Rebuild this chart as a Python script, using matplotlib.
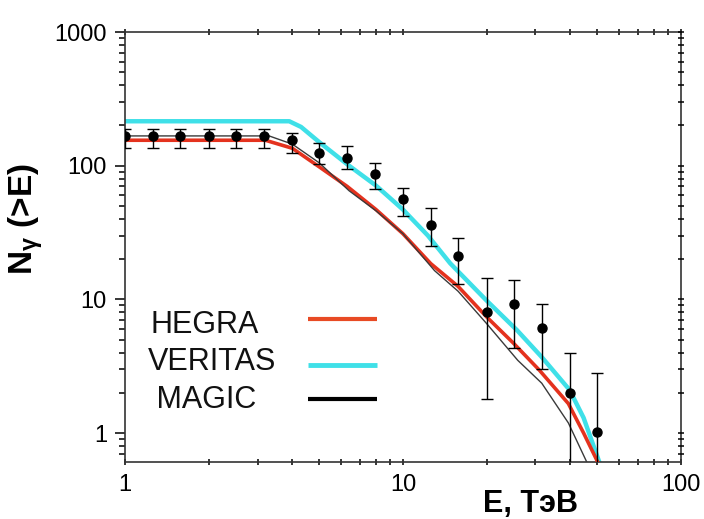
import matplotlib
matplotlib.use("Agg")
import matplotlib.pyplot as plt
from matplotlib.ticker import LogLocator, FixedLocator, FixedFormatter, NullFormatter
import numpy as np

plt.rcParams['font.family'] = ['Liberation Sans', 'DejaVu Sans']
plt.rcParams['mathtext.fontset'] = 'custom'
plt.rcParams['mathtext.rm'] = 'Liberation Sans:bold'
plt.rcParams['mathtext.it'] = 'Liberation Sans:bold'
plt.rcParams['mathtext.bf'] = 'Liberation Sans:bold'

# measured integral spectrum N(>E) with errors
e_data = [1.0, 1.26, 1.58, 2.0, 2.51, 3.16, 3.98, 5.01, 6.31, 7.94,
          10.0, 12.6, 15.8, 20.0, 25.1, 31.6, 39.8, 50.1]
n_data = [167, 167, 167, 167, 167, 167, 156, 125, 114, 87,
          56, 36, 21, 8.0, 9.2, 6.1, 2.0, 1.02]
n_hi = [189, 189, 189, 189, 189, 189, 177, 148, 141, 105,
        68, 48, 29, 14.4, 14, 9.3, 4.0, 2.8]
n_lo = [136, 136, 136, 136, 136, 136, 125, 103, 95, 67,
        42, 25, 13, 1.8, 4.3, 3.0, 0.3, 0.3]

# model curves for each telescope
e_hegra = [1, 3.2, 4.0, 5.0, 6.3, 8.0, 10, 12.6, 15.8, 20, 25, 31, 39.4, 44.7, 50]
n_hegra = [155, 155, 135, 98, 70, 47, 31, 18.5, 12.5, 7.4, 4.7, 2.95, 1.66, 1.0, 0.62]

e_veritas = [1, 3.9, 4.3, 5.0, 6.4, 8.0, 10, 12.3, 14.8, 20, 25.7, 31.6, 39.8, 44.7, 51]
n_veritas = [215, 215, 195, 150, 100, 71, 47, 30, 18.6, 9.8, 5.9, 3.7, 2.1, 1.3, 0.6]

e_magic = [1, 3.3, 4.0, 5.0, 6.4, 8.0, 10, 13, 15.8, 20, 25.9, 31.6, 39.4, 46]
n_magic = [167, 167, 145, 105, 65, 46, 31, 16.4, 11.5, 6.6, 3.5, 2.36, 1.19, 0.6]

legend_names = ['HEGRA', 'VERITAS', ' MAGIC']

c_red = '#e4321e'
c_cyan = '#3fe0e8'

fig = plt.figure(figsize=(7.04, 5.19), dpi=100)
ax = fig.add_axes([0.1776, 0.1098, 0.7894, 0.8285])

ax.plot(e_veritas, n_veritas, color=c_cyan, lw=3.2, zorder=2)
ax.plot(e_hegra, n_hegra, color=c_red, lw=2.6, zorder=3)
ax.plot(e_magic, n_magic, color='#3a3a3a', lw=1.0, zorder=4)

yerr = [np.array(n_data) - np.array(n_lo), np.array(n_hi) - np.array(n_data)]
ax.errorbar(e_data, n_data, yerr=yerr, fmt='o', color='black', ms=6.5,
            elinewidth=1.0, capsize=4, capthick=1.0, zorder=5)

ax.set_xscale('log')
ax.set_yscale('log')
ax.set_xlim(1, 100)
ax.set_ylim(0.607, 1000)

ax.xaxis.set_major_locator(FixedLocator([1, 10, 100]))
ax.xaxis.set_major_formatter(FixedFormatter(['1', '10', '100']))
ax.xaxis.set_minor_locator(LogLocator(base=10, subs=np.arange(2, 10)))
ax.xaxis.set_minor_formatter(NullFormatter())
ax.yaxis.set_major_locator(FixedLocator([1, 10, 100, 1000]))
ax.yaxis.set_major_formatter(FixedFormatter(['1', '10', '100', '1000']))
ax.yaxis.set_minor_locator(LogLocator(base=10, subs=np.arange(2, 10)))
ax.yaxis.set_minor_formatter(NullFormatter())

for s in ax.spines.values():
    s.set_linewidth(1.2)
    s.set_color('#333333')

ax.tick_params(axis='y', which='both', direction='out', left=True, right=False,
               labelsize=17, pad=6, width=1.1)
ax.tick_params(axis='y', which='major', length=7)
ax.tick_params(axis='y', which='minor', length=4)
ax.tick_params(axis='x', which='both', direction='inout', top=True, bottom=True,
               labelsize=17, pad=6, width=1.1, length=5)

# right spine ticks
ax2 = ax.twinx()
ax2.set_yscale('log')
ax2.set_ylim(ax.get_ylim())
ax2.yaxis.set_major_locator(FixedLocator([1, 10, 100, 1000]))
ax2.yaxis.set_minor_locator(LogLocator(base=10, subs=np.arange(2, 10)))
ax2.tick_params(axis='y', which='both', direction='inout', labelright=False,
                width=1.1, length=5)
for s in ax2.spines.values():
    s.set_visible(False)

ax.set_xlabel('E, ТэВ', fontsize=22, fontweight='bold')
ax.xaxis.set_label_coords(0.73, -0.062)
ax.set_ylabel(r'N$_{\gamma}$ (>E)', fontsize=24, fontweight='bold')
ax.yaxis.set_label_coords(-0.144, 0.565)

# hand-placed legend: names on the left, line samples on the right
text_x = [0.045, 0.041, 0.041]
text_y = [0.319, 0.233, 0.144]
line_y = [0.333, 0.226, 0.147]
line_colors = ['#e84a24', c_cyan, 'black']
line_widths = [3, 3.5, 3]
for name, tx, ty, ly, lc, lw in zip(legend_names, text_x, text_y, line_y,
                                    line_colors, line_widths):
    ax.text(tx, ty, name, transform=ax.transAxes, fontsize=22,
            ha='left', va='center', color='#111111')
    ax.plot([0.329, 0.453], [ly, ly], transform=ax.transAxes, color=lc,
            lw=lw, solid_capstyle='butt')

fig.savefig('out.png', dpi=100)
